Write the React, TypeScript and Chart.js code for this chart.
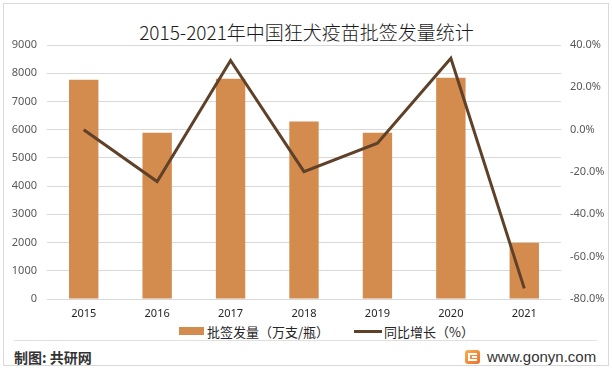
import React, { useEffect, useRef } from "react";
import { Chart, registerables } from "chart.js";

Chart.register(...registerables);

const years = ["2015", "2016", "2017", "2018", "2019", "2020", "2021"];
const issuedVolume = [7770, 5890, 7800, 6290, 5890, 7840, 1990];
const yoyGrowth = [0.0, -24.5, 32.7, -19.8, -6.4, 33.7, -75.0];

const titleText = "2015-2021年中国狂犬疫苗批签发量统计";
const barLabel = "批签发量（万支/瓶）";
const lineLabel = "同比增长（%）";
const sourceText = "制图: 共研网";
const siteText = "www.gonyn.com";

const BAR_COLOR = "#D48B4E";
const LINE_COLOR = "#5E4128";
const TICK_FONT = "'Noto Sans', 'Noto Sans CJK SC', sans-serif";

export default function App() {
  const ref = useRef<HTMLCanvasElement>(null);

  useEffect(() => {
    document.body.style.margin = "0";
    const canvas = ref.current;
    if (!canvas) return;
    const chart = new Chart(canvas, {
      type: "bar",
      data: {
        labels: years,
        datasets: [
          {
            type: "line",
            label: lineLabel,
            data: yoyGrowth,
            yAxisID: "y1",
            borderColor: LINE_COLOR,
            backgroundColor: LINE_COLOR,
            borderWidth: 3,
            pointRadius: 0,
            tension: 0,
            order: 0,
          },
          {
            type: "bar",
            label: barLabel,
            data: issuedVolume,
            yAxisID: "y",
            backgroundColor: BAR_COLOR,
            borderWidth: 0,
            categoryPercentage: 1,
            barPercentage: 0.4,
            order: 1,
          },
        ],
      },
      options: {
        responsive: false,
        animation: false,
        layout: { padding: { top: 45, left: 0, right: 0, bottom: 0 } },
        plugins: {
          legend: { display: false },
          title: { display: false },
          tooltip: { enabled: false },
        },
        scales: {
          x: {
            grid: { display: false, drawTicks: false },
            border: { display: false },
            ticks: {
              padding: 8,
              color: "#262626",
              font: { family: TICK_FONT, size: 11 },
            },
            afterFit: (s: any) => {
              s.height = 21;
            },
          },
          y: {
            position: "left",
            min: 0,
            max: 9000,
            ticks: {
              stepSize: 1000,
              padding: 10,
              color: "#595959",
              font: { family: TICK_FONT, size: 11 },
              callback: (v: any) => String(v),
            },
            grid: { color: "#d9d9d9", drawTicks: false, lineWidth: 1 },
            border: { display: false },
            afterFit: (s: any) => {
              s.width = 47;
            },
          },
          y1: {
            position: "right",
            min: -80,
            max: 40,
            ticks: {
              stepSize: 20,
              padding: 9,
              color: "#595959",
              font: { family: TICK_FONT, size: 11 },
              callback: (v: any) => Number(v).toFixed(1) + "%",
            },
            grid: { display: false, drawTicks: false },
            border: { display: false },
            afterFit: (s: any) => {
              s.width = 52;
            },
          },
        },
      },
    });
    return () => chart.destroy();
  }, []);

  return (
    <div
      style={{
        position: "absolute",
        left: 0,
        top: 0,
        width: 613,
        height: 370,
        background: "#ffffff",
        overflow: "hidden",
        fontFamily: "'Noto Sans CJK SC', sans-serif",
      }}
    >
      <div
        style={{
          position: "absolute",
          left: 3,
          top: 3,
          width: 604,
          height: 361,
          border: "1px solid #d9d9d9",
        }}
      />
      <div
        style={{
          position: "absolute",
          left: 0,
          top: 19,
          width: 613,
          textAlign: "center",
          fontSize: 19,
          lineHeight: "26px",
          fontWeight: 300,
          color: "#1a1a1a",
        }}
      >
        {titleText}
      </div>
      <canvas
        ref={ref}
        width={613}
        height={320}
        style={{ position: "absolute", left: 0, top: 0, width: 613, height: 320 }}
      />
      {/* legend */}
      <div
        style={{
          position: "absolute",
          left: 179,
          top: 322,
          height: 18,
          display: "flex",
          alignItems: "center",
          fontSize: 13,
          color: "#262626",
          whiteSpace: "nowrap",
        }}
      >
        <span style={{ display: "inline-block", width: 25, height: 8, background: BAR_COLOR, marginRight: 3 }} />
        <span>{barLabel}</span>
        <span
          style={{
            display: "inline-block",
            width: 28,
            height: 3,
            background: LINE_COLOR,
            marginLeft: 25,
            marginRight: 2,
          }}
        />
        <span>{lineLabel}</span>
      </div>
      {/* separator */}
      <div
        style={{
          position: "absolute",
          left: 14,
          top: 340,
          width: 583,
          height: 1,
          background: "#e0e0e0",
        }}
      />
      <div
        style={{
          position: "absolute",
          left: 14,
          top: 347,
          fontSize: 14,
          lineHeight: "20px",
          fontWeight: 700,
          color: "#333333",
        }}
      >
        {sourceText}
      </div>
      <div
        style={{
          position: "absolute",
          left: 465,
          top: 350,
          width: 15,
          height: 14,
          borderRadius: 3,
          background: "linear-gradient(135deg, #f8b04c, #ef6d2c)",
        }}
      >
        <div
          style={{
            position: "absolute",
            left: 3,
            top: 3,
            width: 9,
            height: 8,
            border: "2px solid #ffffff",
            borderRight: "none",
            boxSizing: "border-box",
          }}
        />
        <div
          style={{
            position: "absolute",
            left: 7,
            top: 6,
            width: 5,
            height: 2,
            background: "#ffffff",
          }}
        />
      </div>
      <div
        style={{
          position: "absolute",
          left: 487,
          top: 347,
          fontSize: 15,
          lineHeight: "20px",
          fontFamily: "'Liberation Sans', Arial, sans-serif",
          color: "#333333",
        }}
      >
        {siteText}
      </div>
    </div>
  );
}
